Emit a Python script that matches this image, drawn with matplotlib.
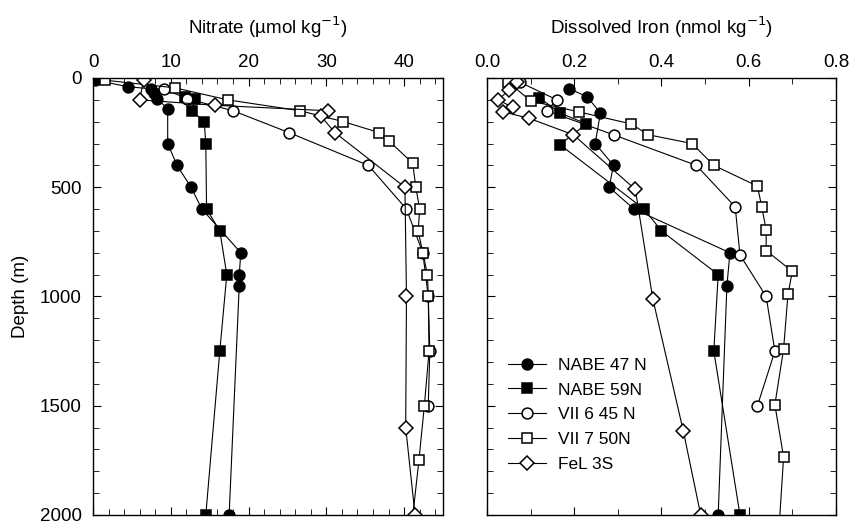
import numpy as np
import matplotlib.pyplot as plt
from matplotlib.ticker import MultipleLocator

plt.rcParams['font.family'] = ['Liberation Sans', 'DejaVu Sans']

# --- Nitrate (umol/kg) vs depth (m) ---
nabe47_no3_depth = [10, 40, 50, 70, 95, 140, 300, 400, 500, 600, 800, 900, 950, 2000]
nabe47_no3 = [0.3, 4.5, 7.5, 7.8, 8.2, 9.6, 9.6, 10.8, 12.6, 14.0, 19.0, 18.8, 18.8, 17.5]

nabe59_no3_depth = [85, 95, 150, 200, 300, 600, 700, 900, 1250, 2000]
nabe59_no3 = [11.8, 13.1, 12.7, 14.3, 14.5, 14.6, 16.3, 17.2, 16.3, 14.5]

vii6_no3_depth = [50, 95, 150, 250, 400, 600, 800, 1000, 1250, 1500]
vii6_no3 = [9.1, 12.1, 18.0, 25.2, 35.4, 40.3, 42.4, 43.1, 43.3, 43.1]

vii7_no3_depth = [10, 45, 100, 150, 200, 250, 290, 390, 500, 600, 700, 800, 900, 1000, 1250, 1500, 1750, 2200]
vii7_no3 = [1.5, 10.5, 17.3, 26.6, 32.2, 36.8, 38.1, 41.1, 41.5, 42.0, 41.8, 42.4, 43.0, 43.1, 43.2, 42.6, 41.9, 40.5]

fel3s_no3_depth = [10, 100, 125, 150, 175, 250, 500, 1000, 1600, 2000]
fel3s_no3 = [6.5, 6.0, 15.7, 30.2, 29.3, 31.1, 40.1, 40.3, 40.2, 41.4]

# --- Dissolved iron (nmol/kg) vs depth (m) ---
nabe47_fe_depth = [50, 85, 160, 300, 400, 500, 600, 800, 950, 2000]
nabe47_fe = [0.189, 0.229, 0.26, 0.248, 0.29, 0.28, 0.337, 0.557, 0.55, 0.53]

nabe59_fe_depth = [90, 160, 210, 305, 600, 700, 900, 1250, 2000]
nabe59_fe = [0.12, 0.167, 0.228, 0.167, 0.36, 0.40, 0.53, 0.52, 0.58]

vii6_fe_depth = [20, 100, 150, 260, 400, 590, 810, 1000, 1250, 1500]
vii6_fe = [0.076, 0.16, 0.137, 0.29, 0.48, 0.569, 0.58, 0.64, 0.66, 0.62]

vii7_fe_depth = [20, 105, 155, 210, 260, 300, 400, 495, 590, 695, 790, 885, 990, 1240, 1495, 1735, 2200]
vii7_fe = [0.049, 0.10, 0.21, 0.33, 0.37, 0.47, 0.52, 0.62, 0.63, 0.64, 0.64, 0.70, 0.69, 0.68, 0.66, 0.68, 0.665]

fel3s_fe_depth = [20, 55, 100, 135, 155, 185, 260, 510, 1010, 1615, 2000]
fel3s_fe = [0.068, 0.05, 0.026, 0.059, 0.037, 0.097, 0.198, 0.34, 0.38, 0.45, 0.49]

series = [
    ("NABE 47 N", "o", "black", nabe47_no3_depth, nabe47_no3, nabe47_fe_depth, nabe47_fe),
    ("NABE 59N", "s", "black", nabe59_no3_depth, nabe59_no3, nabe59_fe_depth, nabe59_fe),
    ("VII 6 45 N", "o", "white", vii6_no3_depth, vii6_no3, vii6_fe_depth, vii6_fe),
    ("VII 7 50N", "s", "white", vii7_no3_depth, vii7_no3, vii7_fe_depth, vii7_fe),
    ("FeL 3S", "D", "white", fel3s_no3_depth, fel3s_no3, fel3s_fe_depth, fel3s_fe),
]

fig = plt.figure(figsize=(8.51, 5.24), dpi=100)
ax1 = fig.add_axes([0.1093, 0.0172, 0.4113, 0.834])
ax2 = fig.add_axes([0.5723, 0.0172, 0.410, 0.834])

msize = {"o": 7.8, "s": 7.2, "D": 7.2}

for label, mk, fc, d1, v1, d2, v2 in series:
    kw = dict(color="black", lw=0.8, marker=mk, ms=msize[mk], mfc=fc, mec="black", mew=1.1)
    ax1.plot(v1, d1, label=label, **kw)
    ax2.plot(v2, d2, label=label, **kw)

for ax in (ax1, ax2):
    ax.set_ylim(2000, 0)
    ax.yaxis.set_major_locator(MultipleLocator(500))
    ax.yaxis.set_minor_locator(MultipleLocator(100))
    ax.tick_params(which="both", direction="in", top=True, right=True,
                   labeltop=True, labelbottom=False, labelsize=13.5)
    ax.tick_params(which="major", length=6)
    ax.tick_params(which="minor", length=4)
    ax.tick_params(axis="y", pad=8)
    ax.tick_params(axis="x", pad=5)
    for s in ax.spines.values():
        s.set_linewidth(1.0)

ax1.set_xlim(0, 45)
ax1.xaxis.set_major_locator(MultipleLocator(10))
ax1.xaxis.set_minor_locator(MultipleLocator(2))
ax1.set_ylabel("Depth (m)", fontsize=13.5, labelpad=8)
ax1.set_title("Nitrate (µmol kg$^{-1}$)", fontsize=13.5, pad=32)

ax2.set_xlim(0, 0.8)
ax2.xaxis.set_major_locator(MultipleLocator(0.2))
ax2.xaxis.set_minor_locator(MultipleLocator(0.1))
ax2.xaxis.set_major_formatter(lambda x, pos: f"{x:.1f}")
ax2.tick_params(labelleft=False)
ax2.set_title("Dissolved Iron (nmol kg$^{-1}$)", fontsize=13.5, pad=32)

ax2.legend(loc="upper left", bbox_to_anchor=(0.06, 0.36), frameon=False,
           fontsize=12.5, handlelength=2.2, handletextpad=0.7, labelspacing=0.55,
           borderpad=0, borderaxespad=0)

fig.savefig("out.png", dpi=100)
